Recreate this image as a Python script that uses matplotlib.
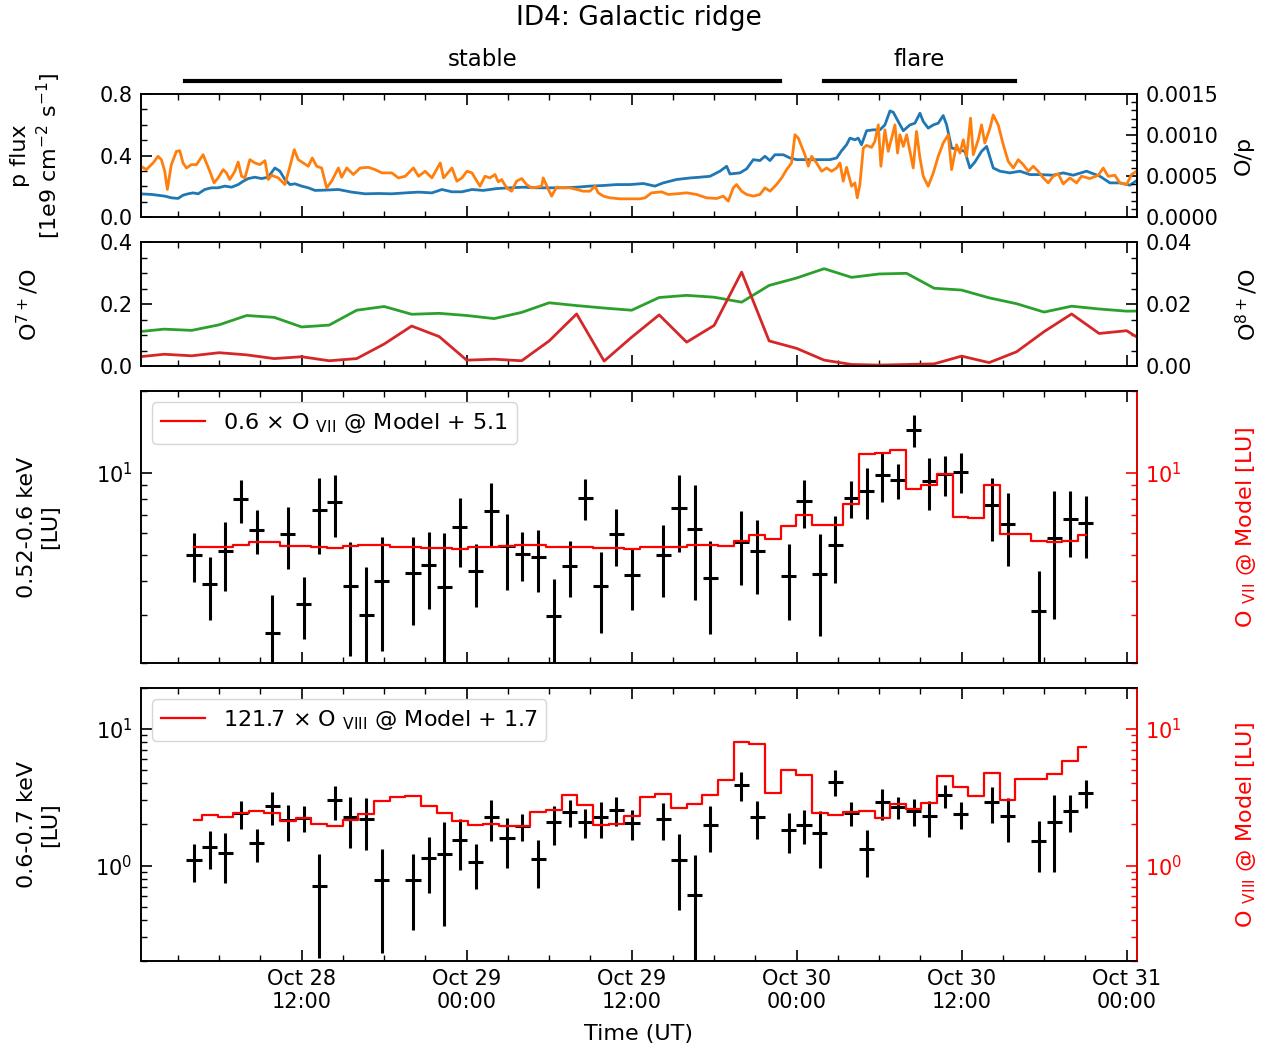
import numpy as np
import pandas as pd
import matplotlib
matplotlib.use("Agg")
import matplotlib.pyplot as plt
import matplotlib.dates as mdates
import matplotlib.ticker as mticker
import matplotlib.transforms as mtransforms

# all times are hours after Oct 28 00:00 UT
T0 = mdates.date2num(pd.Timestamp("2019-10-28 00:00"))

# --- panel 1: proton flux (left) and O/p (right, in units of 1e-4)
pflux_hours = [0.2, 1.07, 2.04, 2.52, 3.01, 3.37, 3.74, 4.10, 4.47, 4.95, 5.44, 5.92, 6.41, 6.90,
               7.38, 7.75, 8.11, 8.60, 9.08, 9.57, 10.05, 10.42, 10.78, 11.15, 11.51, 12.0, 12.48,
               12.97, 13.7, 14.67, 15.64, 16.61, 17.58, 18.55, 19.53, 20.5, 21.47, 22.2, 22.93,
               23.66, 24.39, 25.21, 26.18, 27.15, 28.12, 29.09, 30.06, 31.03, 32.0, 32.97, 33.94,
               34.91, 35.88, 36.85, 37.69, 38.3, 39.27, 40.24, 40.97, 41.7, 42.42, 42.91, 43.15,
               43.88, 44.36, 44.85, 45.33, 45.7, 46.06, 46.42, 47.03, 47.51, 48.0, 48.97, 49.69,
               50.42, 50.91, 51.27, 51.63, 51.88, 52.24, 52.48, 52.72, 53.09, 53.57, 54.06, 54.42,
               54.79, 55.03, 55.39, 55.76, 56.24, 56.6, 56.97, 57.21, 57.57, 57.94, 58.3, 58.66,
               58.91, 59.27, 59.76, 60.24, 60.6, 60.97, 61.45, 61.82, 62.3, 62.79, 63.51, 64.24,
               64.97, 65.7, 66.66, 67.39, 68.12, 69.09, 70.06, 70.79, 71.51, 72.24, 72.85]
pflux = [0.151, 0.147, 0.136, 0.125, 0.121, 0.142, 0.151, 0.157, 0.151, 0.179, 0.190, 0.190, 0.201,
         0.194, 0.211, 0.233, 0.250, 0.259, 0.250, 0.259, 0.319, 0.298, 0.244, 0.211, 0.216, 0.201,
         0.190, 0.173, 0.175, 0.179, 0.162, 0.151, 0.153, 0.151, 0.157, 0.162, 0.157, 0.179, 0.164,
         0.164, 0.179, 0.173, 0.185, 0.190, 0.194, 0.190, 0.190, 0.190, 0.194, 0.201, 0.205, 0.211,
         0.211, 0.218, 0.201, 0.222, 0.244, 0.254, 0.259, 0.265, 0.298, 0.330, 0.280, 0.287, 0.313,
         0.373, 0.367, 0.395, 0.367, 0.405, 0.405, 0.384, 0.373, 0.373, 0.373, 0.373, 0.384, 0.431,
         0.470, 0.513, 0.502, 0.513, 0.470, 0.561, 0.567, 0.567, 0.599, 0.690, 0.681, 0.621, 0.561,
         0.599, 0.610, 0.675, 0.621, 0.578, 0.599, 0.610, 0.660, 0.599, 0.449, 0.438, 0.427, 0.319,
         0.358, 0.427, 0.459, 0.319, 0.298, 0.287, 0.298, 0.276, 0.276, 0.272, 0.287, 0.272, 0.298,
         0.265, 0.222, 0.222, 0.207, 0.244]

op_hours = [0.2, 0.70, 1.19, 1.55, 1.80, 2.04, 2.23, 2.52, 2.89, 3.13, 3.37, 3.62, 3.98, 4.35, 4.59,
            4.83, 5.07, 5.32, 5.63, 5.92, 6.29, 6.53, 6.77, 7.14, 7.38, 7.63, 7.87, 8.23, 8.6, 8.96,
            9.33, 9.57, 9.81, 10.3, 10.78, 11.15, 11.46, 11.75, 12.12, 12.48, 12.77, 13.09, 13.45,
            13.82, 14.18, 14.67, 14.91, 15.28, 15.76, 16.25, 16.85, 17.34, 17.83, 18.55, 19.04,
            19.53, 20.13, 20.5, 20.98, 21.47, 22.08, 22.32, 22.93, 23.29, 23.66, 24.02, 24.39,
            24.6, 24.97, 25.33, 25.69, 26.06, 26.3, 26.54, 26.91, 27.27, 27.63, 28.0, 28.36, 28.72,
            29.09, 29.45, 29.57, 29.94, 30.18, 30.54, 31.03, 31.51, 32.0, 32.48, 32.97, 33.33,
            33.57, 33.94, 34.42, 35.15, 35.88, 36.6, 36.97, 37.45, 38.18, 38.66, 39.27, 40.0,
            40.72, 41.45, 42.18, 42.66, 43.03, 43.39, 43.63, 44.0, 44.36, 44.85, 45.33, 45.7,
            46.06, 46.54, 46.91, 47.27, 47.63, 47.88, 48.12,
            48.36, 48.6, 48.85, 49.09, 49.45, 49.82, 50.18, 50.54, 50.91, 51.15, 51.39, 51.63,
            52.0, 52.24, 52.41, 52.6, 52.85, 53.09, 53.45, 53.69, 53.94, 54.13, 54.42, 54.66,
            54.91, 55.15, 55.34, 55.51, 55.76, 56.0, 56.24, 56.48, 56.72, 56.97, 57.21, 57.57,
            57.94, 58.3, 58.66, 59.03, 59.27, 59.63, 59.88, 60.12, 60.36, 60.65, 60.85, 61.21,
            61.45, 61.69, 62.06, 62.3, 62.66, 63.03, 63.39, 63.76, 64.12, 64.48, 64.85, 65.21,
            65.57, 65.94, 66.3, 66.66, 67.03, 67.39, 67.88, 68.36, 68.72, 69.33, 69.94, 70.3,
            70.66, 71.15, 71.51, 72.0, 72.36, 72.72, 73.0]
op_e4 = [6.31, 5.78, 6.59, 7.40, 6.99, 5.58, 3.36, 6.39, 8.01, 8.09, 6.59, 5.98, 6.39, 6.39, 6.99,
         7.60, 6.59, 5.58, 4.16, 4.77, 5.78, 5.38, 4.57, 5.58, 6.71, 4.97, 4.77, 6.99, 6.59, 6.39,
         6.87, 4.57, 5.09, 4.77, 3.96, 6.19, 8.21, 6.99, 6.59, 6.19, 7.20, 6.19, 5.98, 3.56, 4.37,
         5.98, 4.85, 5.98, 5.18, 5.98, 6.06, 5.78, 5.38, 5.38, 4.77, 4.97, 5.98, 4.97, 5.58, 4.77,
         6.59, 4.77, 5.98, 4.37, 4.77, 5.58, 5.38,
         4.77, 3.76, 4.97, 4.77, 5.18, 4.29, 4.57, 3.56, 3.15, 4.37, 4.69, 3.96, 3.56, 3.64, 3.76,
         4.77, 3.36, 2.55, 3.64, 3.56, 3.56, 3.36, 3.15, 3.15, 3.76, 2.95, 2.55, 2.34, 2.22, 2.22,
         2.22, 2.34, 2.95, 3.07, 2.75, 2.83, 2.95, 2.75, 2.34, 2.26, 2.55, 1.94, 3.56, 3.96, 3.15,
         2.75, 2.55, 2.75, 3.56, 3.15, 3.96, 4.77, 5.78, 6.59, 10.03, 9.62,
         8.61, 7.60, 6.20, 7.40, 6.59, 5.58, 5.98, 5.58, 5.98, 6.59, 4.37, 6.06, 3.76, 4.16, 2.34,
         3.96, 8.41, 8.73, 8.49, 9.22, 11.24, 6.19, 10.63, 8.01, 9.62, 11.24, 7.80, 10.03, 8.61,
         10.03, 8.01, 5.98, 10.43, 7.20, 4.97, 3.76, 5.38, 7.40, 9.02, 10.03, 5.78, 8.81, 7.80,
         9.42, 7.40, 12.05, 7.60, 9.42, 11.24, 9.02, 10.84, 12.45, 11.24, 8.81, 6.79, 5.98, 6.99,
         6.39, 5.58, 6.19, 5.58, 4.77, 4.16, 4.97, 5.26, 4.04, 4.77, 4.16, 4.97, 4.69, 5.09, 5.98,
         4.97, 5.09, 4.16, 3.96, 5.18, 5.58, 5.70]

# --- panel 2: charge state ratios (2-hour values)
ratio_hours = [0, 2, 4, 6, 8, 10, 12, 14, 16, 18, 20, 22, 24, 26, 28, 30, 32, 34, 36, 38, 40, 42,
               44, 46, 48, 50, 52, 54, 56, 58, 60, 62, 64, 66, 68, 70, 72, 74]
o7_ratio = [0.110, 0.119, 0.115, 0.133, 0.163, 0.157, 0.126, 0.132, 0.180, 0.192, 0.167, 0.170,
            0.163, 0.153, 0.173, 0.204, 0.195, 0.187, 0.180, 0.221, 0.228, 0.222, 0.206, 0.260,
            0.284, 0.314, 0.286, 0.297, 0.299, 0.251, 0.245, 0.220, 0.201, 0.174, 0.193, 0.184,
            0.177, 0.178]
o8_ratio = [0.0029, 0.0038, 0.0033, 0.0043, 0.0036, 0.0024, 0.0030, 0.0017, 0.0024, 0.0071,
            0.0129, 0.0095, 0.0019, 0.0022, 0.0017, 0.0081, 0.0168, 0.0016, 0.0093, 0.0165,
            0.0077, 0.0131, 0.0303, 0.0081, 0.0057, 0.0019, 0.0005, 0.0003, 0.0005, 0.0007,
            0.0032, 0.0011, 0.0046, 0.0111, 0.0168, 0.0105, 0.0114, 0.0059]

# --- panels 3/4: X-ray light curves (4096 s bins) and scaled model
model_hours = [4.17, 5.31, 6.45, 7.58, 8.72, 9.86, 11.00, 12.14, 13.27, 14.41, 15.55, 16.69,
               17.82, 18.96, 20.10, 21.24, 22.38, 23.51, 24.65, 25.79, 26.93, 28.06, 29.20,
               30.34, 31.48, 32.62, 33.75, 34.89, 36.03, 37.17, 38.30, 39.44, 40.58, 41.72,
               42.86, 43.99, 45.13, 46.27, 47.41, 48.54, 49.68, 50.82, 51.96, 53.10, 54.23,
               55.37, 56.51, 57.65, 58.78, 59.92, 61.06, 62.20, 63.34, 64.47, 65.61, 66.75,
               67.89, 69.02]
ovii_model = [5.32, 5.32, 5.32, 5.41, 5.57, 5.59, 5.38, 5.38, 5.33, 5.29, 5.39, 5.42, 5.42, 5.36,
              5.32, 5.29, 5.29, 5.27, 5.36, 5.36, 5.38, 5.41, 5.41, 5.32, 5.35, 5.35, 5.30, 5.30,
              5.26, 5.32, 5.35, 5.36, 5.42, 5.41, 5.39, 5.63, 5.92, 5.72, 6.39, 6.98, 6.41, 6.45,
              7.70, 11.78, 11.85, 12.12, 8.75, 9.00, 9.91, 6.88, 6.82, 9.05, 5.97, 5.97, 5.63,
              5.59, 5.64, 5.89]
oviii_model = [2.17, 2.36, 2.27, 2.44, 2.51, 2.44, 2.12, 2.24, 2.00, 1.94, 2.14, 2.40, 2.95, 3.18,
               3.23, 2.72, 2.44, 2.11, 1.97, 2.02, 1.95, 1.95, 2.47, 2.54, 3.27, 2.76, 1.99, 2.00,
               2.29, 3.18, 3.33, 2.65, 2.84, 3.27, 4.26, 7.98, 7.71, 3.40, 5.05, 4.59, 2.44, 2.36,
               2.47, 2.49, 2.23, 2.81, 2.61, 2.87, 4.54, 3.77, 3.22, 4.77, 3.04, 4.34, 4.29, 4.67,
               5.88, 7.42]

lc_hours = [4.17, 5.31, 6.45, 7.58, 8.72, 9.86, 11.00, 12.14, 13.27, 14.41, 15.55, 16.69, 17.82,
            20.10, 21.24, 22.38, 23.51, 24.65, 25.79, 26.93, 28.06, 29.20, 30.34, 31.48, 32.62,
            33.75, 34.89, 36.03, 38.30, 39.44, 40.58, 41.72, 43.99, 45.13, 47.41, 48.54, 49.68,
            50.82, 51.96, 53.10, 54.23, 55.37, 56.51, 57.65, 58.78, 59.92, 62.20, 63.34, 65.61,
            66.75, 67.89, 69.02]
soft_rate = [5.0, 3.9, 5.15, 8.0, 6.15, 2.57, 5.95, 3.29, 7.3, 7.8, 3.85, 3.0, 4.0,
             4.27, 4.6, 3.82, 6.3, 4.35, 7.26, 5.4, 5.05, 4.9, 2.98, 4.56, 8.1, 3.84, 5.95, 4.2,
             4.97, 7.45, 6.2, 4.1, 5.55, 5.15, 4.18, 7.85, 4.24, 5.45, 8.1, 8.6, 9.8, 9.4, 14.4,
             9.3, 9.9, 10.1, 7.6, 6.5, 3.1, 5.75, 6.75, 6.55]
soft_err = [1.03, 1.02, 1.47, 1.45, 1.13, 1.0, 1.52, 0.84, 2.28, 1.99, 1.73, 1.5, 1.79,
            1.52, 1.45, 2.18, 1.8, 1.14, 1.91, 1.68, 1.03, 1.25, 1.08, 1.06, 1.37, 1.27, 1.39, 1.08,
            1.48, 2.35, 2.8, 1.54, 1.69, 1.55, 1.31, 1.56, 1.73, 1.5, 1.27, 1.83, 2.0, 1.39, 1.97,
            2.0, 1.66, 1.7, 2.0, 1.94, 1.26, 2.85, 1.85, 1.68]
hard_rate = [1.1, 1.36, 1.24, 2.42, 1.46, 2.72, 2.15, 2.24, 0.71, 3.0, 2.26, 2.2, 0.78,
             0.78, 1.13, 1.22, 1.55, 1.06, 2.28, 1.6, 1.95, 1.11, 2.07, 2.47, 2.1, 2.27, 2.56, 2.05,
             2.2, 1.09, 0.61, 1.99, 3.9, 2.27, 1.83, 1.99, 1.73, 4.1, 2.43, 1.32, 2.9, 2.7, 2.5,
             2.29, 3.27, 2.38, 2.9, 2.3, 1.51, 2.08, 2.53, 3.42]
hard_err = [0.34, 0.42, 0.5, 0.57, 0.39, 0.75, 0.63, 0.49, 0.5, 0.85, 0.92, 0.9, 0.55,
            0.44, 0.5, 0.86, 0.63, 0.39, 0.76, 0.64, 0.43, 0.42, 0.65, 0.55, 0.5, 0.67, 0.62, 0.5,
            0.66, 0.62, 0.59, 0.73, 0.94, 0.7, 0.6, 0.55, 0.77, 0.89, 0.49, 0.49, 0.76, 0.5, 0.55,
            0.68, 0.65, 0.54, 0.86, 0.8, 0.61, 1.19, 0.77, 0.8]

periods = [("stable", 3.5, 46.8), ("flare", 50.0, 63.9)]


def t(hours):
    return T0 + np.asarray(hours, dtype=float) / 24.0


plt.rcParams["font.size"] = 16
plt.rcParams["axes.linewidth"] = 1.2

fig = plt.figure(figsize=(12.71, 10.5), dpi=100)
L, W = 0.1109, 0.7836
ax1 = fig.add_axes([L, 0.7933, W, 0.1172])
ax2 = fig.add_axes([L, 0.6514, W, 0.1181], sharex=ax1)
ax3 = fig.add_axes([L, 0.3686, W, 0.2590], sharex=ax1)
ax4 = fig.add_axes([L, 0.0848, W, 0.2600], sharex=ax1)


def style(ax, top=True):
    ax.tick_params(which="both", direction="in", top=top, pad=6, labelsize=15)
    ax.tick_params(which="major", length=8, width=1.2)
    ax.tick_params(which="minor", length=4, width=1.0)


# panel 1
ax1.plot(t(pflux_hours), pflux, color="tab:blue", lw=2)
ax1r = ax1.twinx()
ax1r.plot(t(op_hours), np.array(op_e4) * 1e-4, color="tab:orange", lw=2)
ax1.set_ylim(0, 0.8)
ax1r.set_ylim(0, 0.0015)
ax1.yaxis.set_major_locator(mticker.MultipleLocator(0.4))
ax1.yaxis.set_minor_locator(mticker.MultipleLocator(0.1))
ax1.yaxis.set_major_formatter(mticker.FormatStrFormatter("%.1f"))
ax1r.yaxis.set_major_locator(mticker.MultipleLocator(0.0005))
ax1r.yaxis.set_minor_locator(mticker.MultipleLocator(0.0001))
ax1r.yaxis.set_major_formatter(mticker.FormatStrFormatter("%.4f"))
ax1.set_ylabel("p flux\n[1e9 cm$^{-2}$ s$^{-1}$]")
ax1r.set_ylabel("O/p")

# stable / flare bars above panel 1
trans = mtransforms.blended_transform_factory(ax1.transData, ax1.transAxes)
for name, h0, h1 in periods:
    ax1.plot(t([h0, h1]), [1.106, 1.106], color="k", lw=3, transform=trans, clip_on=False)
    ax1.text(t((h0 + h1) / 2), 1.28, name, transform=trans, ha="center", va="center",
             fontsize=16.5)

# panel 2
ax2.plot(t(ratio_hours), o7_ratio, color="tab:green", lw=2)
ax2r = ax2.twinx()
ax2r.plot(t(ratio_hours), o8_ratio, color="tab:red", lw=2)
ax2.set_ylim(0, 0.4)
ax2r.set_ylim(0, 0.04)
ax2.yaxis.set_major_locator(mticker.MultipleLocator(0.2))
ax2.yaxis.set_minor_locator(mticker.MultipleLocator(0.05))
ax2.yaxis.set_major_formatter(mticker.FormatStrFormatter("%.1f"))
ax2r.yaxis.set_major_locator(mticker.MultipleLocator(0.02))
ax2r.yaxis.set_minor_locator(mticker.MultipleLocator(0.005))
ax2r.yaxis.set_major_formatter(mticker.FormatStrFormatter("%.2f"))
ax2.set_ylabel("O$^{7+}$/O")
ax2r.set_ylabel("O$^{8+}$/O")

# panels 3 and 4
xerr = 0.55 / 24.0
lc_panels = [
    (ax3, soft_rate, soft_err, ovii_model, (2, 20), "0.52-0.6 keV\n[LU]",
     r"O $_{\rm VII}$ @ Model [LU]", r"0.6 × O $_{\rm VII}$ @ Model + 5.1"),
    (ax4, hard_rate, hard_err, oviii_model, (0.2, 20), "0.6-0.7 keV\n[LU]",
     r"O $_{\rm VIII}$ @ Model [LU]", r"121.7 × O $_{\rm VIII}$ @ Model + 1.7"),
]
twins = []
for ax, rate, err, model, ylim, ylab, rlab, leg in lc_panels:
    ax.errorbar(t(lc_hours), rate, yerr=err, xerr=xerr, fmt="none", ecolor="k",
                elinewidth=2.2, capsize=0)
    axr = ax.twinx()
    axr.step(t(model_hours), model, where="mid", color="red", lw=1.6, label=leg)
    for a in (ax, axr):
        a.set_yscale("log")
        a.set_ylim(*ylim)
        a.yaxis.set_major_locator(mticker.LogLocator(base=10))
        a.yaxis.set_minor_locator(mticker.LogLocator(base=10, subs=np.arange(2, 10)))
        a.yaxis.set_minor_formatter(mticker.NullFormatter())
    ax.set_ylabel(ylab)
    axr.set_ylabel(rlab, color="red")
    axr.spines["right"].set_color("red")
    axr.legend(loc="upper left", fontsize=16)
    twins.append(axr)

# shared time axis
ax4.set_xlim(t(0.31), t(72.75))
ax4.xaxis.set_major_locator(mdates.HourLocator(byhour=[0, 12]))
ax4.xaxis.set_minor_locator(mdates.HourLocator(byhour=range(0, 24, 3)))
ax4.xaxis.set_major_formatter(mdates.DateFormatter("%b %d\n%H:%M"))
ax4.set_xlabel("Time (UT)", labelpad=8)

for ax in (ax1, ax2, ax3, ax4):
    style(ax)
for ax in (ax1, ax2, ax3):
    ax.tick_params(labelbottom=False)
for axr in (ax1r, ax2r):
    style(axr, top=False)
for axr in twins:
    style(axr, top=False)
    axr.tick_params(axis="y", which="both", colors="red")

for ax, xpos in ((ax1, -0.0786), (ax2, -0.1004), (ax3, -0.0813), (ax4, -0.0813)):
    ax.yaxis.set_label_coords(xpos, 0.5)
for axr in (ax1r, ax2r, *twins):
    axr.yaxis.set_label_coords(1.097, 0.5)

fig.text(639 / 1271, 1 - 18 / 1050, "ID4: Galactic ridge", ha="center", va="center", fontsize=19)

fig.savefig("out.png", dpi=100)
